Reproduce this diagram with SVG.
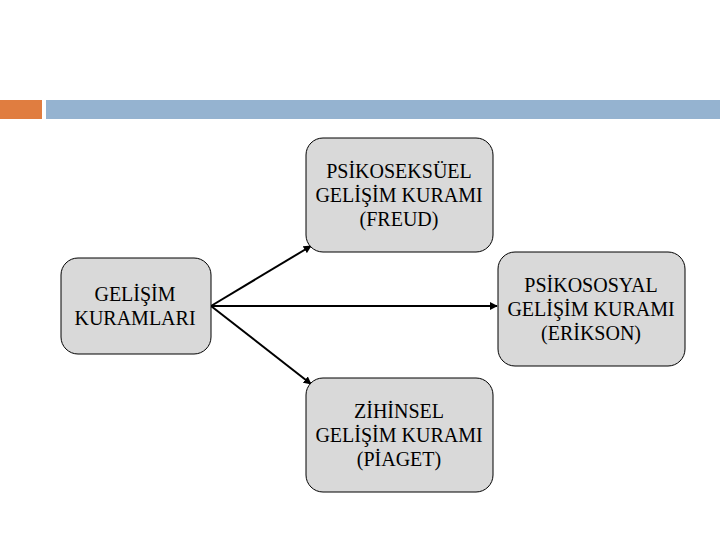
<svg xmlns="http://www.w3.org/2000/svg" width="720" height="540" viewBox="0 0 720 540">
<style>
.box{fill:#d9d9d9;stroke:#000;stroke-width:1}
.t{font-size:20px;fill:#000;text-anchor:middle}
.c{stroke:#000;stroke-width:2;fill:none;marker-end:url(#ah)}
</style>
<defs>
<marker id="ah" viewBox="0 0 10 10" refX="9" refY="5" markerWidth="4" markerHeight="4" orient="auto" markerUnits="strokeWidth">
<path d="M0,0 L10,5 L0,10 z" fill="#000"/>
</marker>
</defs>
<rect x="0" y="100" width="42" height="19" fill="#e07d40"/>
<rect x="46" y="100" width="674" height="19" fill="#95b3d0"/>
<g id="connectors">
<line class="c" x1="211" y1="306" x2="311" y2="246"/>
<line class="c" x1="211" y1="306" x2="497" y2="306"/>
<line class="c" x1="211" y1="306" x2="311" y2="384"/>
</g>
<g font-family="Liberation Serif, serif">
<g id="freud">
<rect class="box" x="306" y="138" width="187" height="114" rx="17"/>
<text class="t" x="399" y="178">PSİKOSEKSÜEL</text>
<text class="t" x="399" y="202">GELİŞİM KURAMI</text>
<text class="t" x="399" y="226">(FREUD)</text>
</g>
<g id="gelisim">
<rect class="box" x="61" y="258" width="150" height="96" rx="17"/>
<text class="t" x="135" y="301">GELİŞİM</text>
<text class="t" x="135" y="325">KURAMLARI</text>
</g>
<g id="erikson">
<rect class="box" x="498" y="252" width="187" height="114" rx="17"/>
<text class="t" x="591" y="292">PSİKOSOSYAL</text>
<text class="t" x="591" y="316">GELİŞİM KURAMI</text>
<text class="t" x="591" y="340">(ERİKSON)</text>
</g>
<g id="piaget">
<rect class="box" x="306" y="378" width="187" height="114" rx="17"/>
<text class="t" x="399" y="418">ZİHİNSEL</text>
<text class="t" x="399" y="442">GELİŞİM KURAMI</text>
<text class="t" x="399" y="466">(PİAGET)</text>
</g>
</g>
</svg>
